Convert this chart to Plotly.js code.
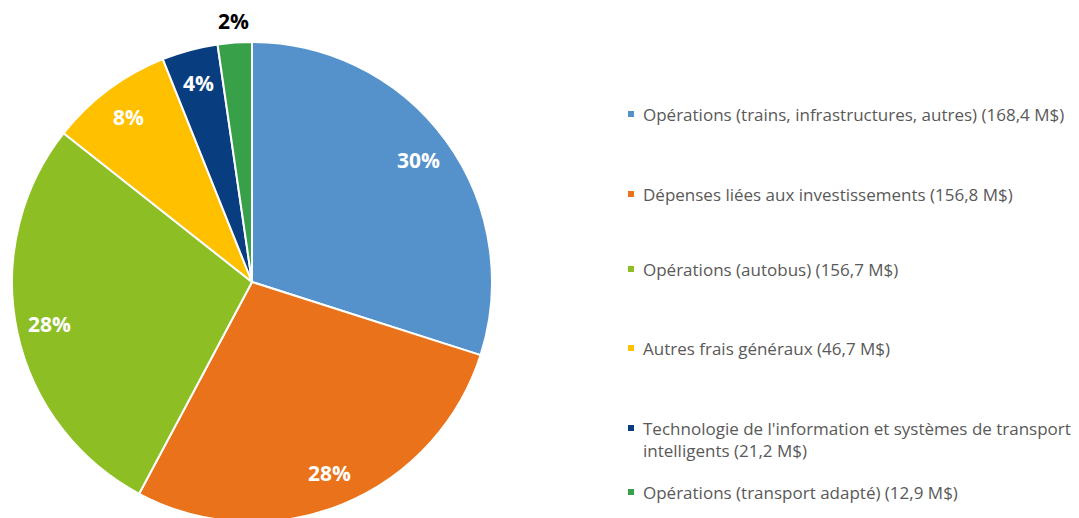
<!DOCTYPE html>
<html><head><meta charset="utf-8">
<script src="https://cdn.plot.ly/plotly-3.0.1.min.js"></script>
<style>html,body{margin:0;padding:0;overflow:hidden;background:#fff}</style>
</head><body>
<div id="chart" style="width:1079px;height:522px"></div>
<script>
const categories = [
  "Opérations (trains, infrastructures, autres)",
  "Dépenses liées aux investissements",
  "Opérations (autobus)",
  "Autres frais généraux",
  "Technologie de l'information et systèmes de transport intelligents",
  "Opérations (transport adapté)"
];
const valuesM = [168.4, 156.8, 156.7, 46.7, 21.2, 12.9];
const colors = ["#5592CB", "#E9721A", "#8DBE24", "#FFC000", "#083E80", "#37A048"];

const W = 1079, H = 522;
const CX = 252, CY = 282, R = 240;
function fmt(v){ return v.toFixed(1).replace('.', ','); }
function wrap(s, n){
  if (s.length <= n) return s;
  const words = s.split(' '); let line = '', out = [];
  for (const w of words){
    if ((line + ' ' + w).trim().length > n){ out.push(line.trim()); line = w; }
    else line += ' ' + w;
  }
  out.push(line.trim());
  return out.join('<br>');
}
const legendTexts = categories.map((c,i) => wrap(c + ' (' + fmt(valuesM[i]) + ' M$)', 58));

const trace = {
  type: 'pie',
  labels: categories,
  values: valuesM,
  sort: false,
  direction: 'clockwise',
  rotation: 0,
  marker: {colors: colors, line: {color: '#FFFFFF', width: 2}},
  textinfo: 'none',
  automargin: false,
  hoverinfo: 'label+value+percent',
  showlegend: false,
  domain: {x: [(CX-R)/W, (CX+R)/W], y: [(H-CY-R)/H, (H-CY+R)/H]}
};

const annotations = [], shapes = [];
// percentage labels at slice mid-angles
const total = valuesM.reduce((a,b)=>a+b, 0);
let cum = 0;
valuesM.forEach((v, i) => {
  const frac = v / total;
  const mid = (cum + frac/2) * 2 * Math.PI; cum += frac;
  const inside = frac >= 0.03;
  const rr = inside ? 0.86*R : 1.09*R;
  const px = CX + rr*Math.sin(mid), py = CY - rr*Math.cos(mid);
  annotations.push({
    xref: 'paper', yref: 'paper', x: px/W, y: (H-py)/H,
    xanchor: 'center', yanchor: 'middle', showarrow: false,
    text: Math.round(frac*100) + '%',
    font: {family: 'Open Sans', size: 21, weight: 'bold', color: inside ? '#FFFFFF' : '#000000'}
  });
});

const rowY = [114, 194, 269, 348, 428, 492];
legendTexts.forEach((t, i) => {
  annotations.push({
    xref: 'paper', yref: 'paper',
    x: 641/W, y: (H - rowY[i] + 13)/H,
    xanchor: 'left', yanchor: 'top', align: 'left',
    text: t, showarrow: false,
    font: {family: 'Open Sans', size: 17, color: '#595959'}
  });
  shapes.push({
    type: 'rect', xref: 'paper', yref: 'paper',
    x0: 628/W, x1: 634/W, y0: (H - rowY[i] - 3)/H, y1: (H - rowY[i] + 3)/H,
    fillcolor: colors[i], line: {width: 0}
  });
});

Plotly.newPlot('chart', [trace], {
  width: W, height: H,
  margin: {l: 0, r: 0, t: 0, b: 0},
  paper_bgcolor: '#FFFFFF',
  annotations: annotations,
  shapes: shapes
}, {displayModeBar: false, staticPlot: true});
</script>
</body></html>
